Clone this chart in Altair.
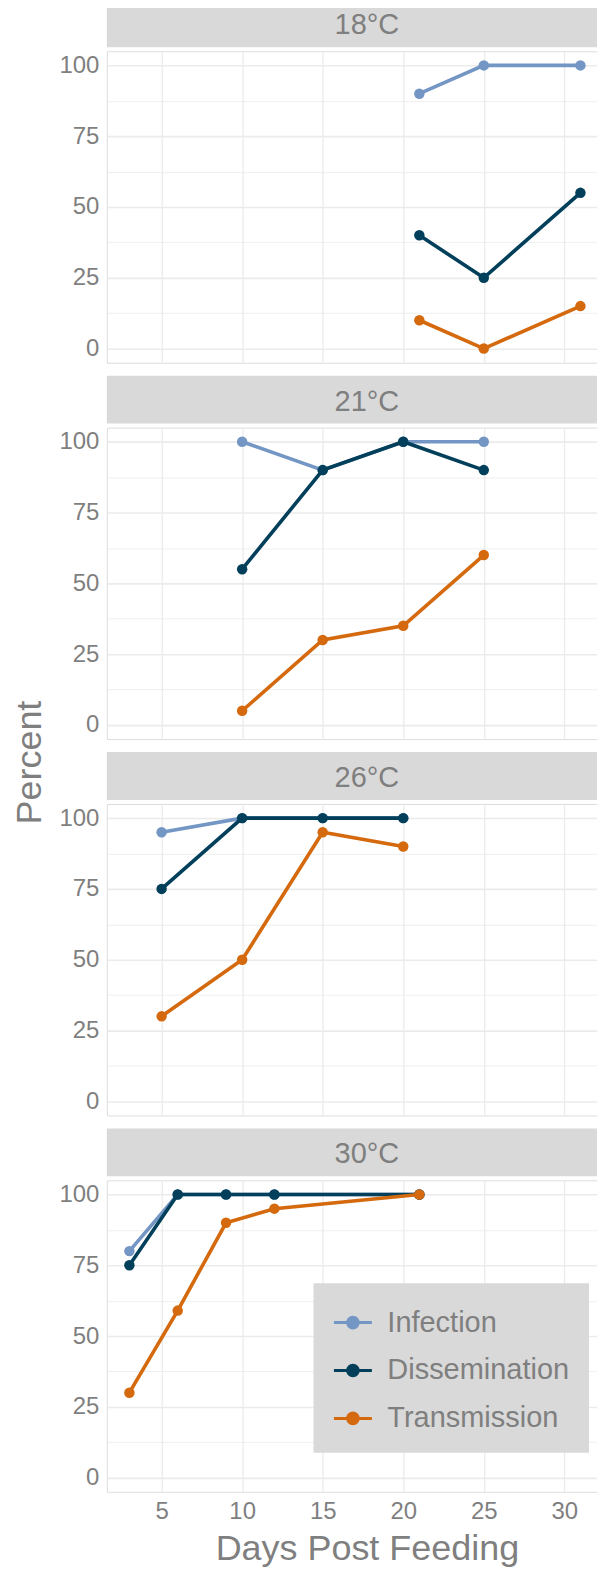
import altair as alt
import pandas as pd

# ---- data ----
temps = ["18°C", "21°C", "26°C", "30°C"]
series = ["Infection", "Dissemination", "Transmission"]
colors = ["#7396C4", "#023F5A", "#D4690E"]

days_18 = [21, 25, 31]
inf_18 = [90, 100, 100]
dis_18 = [40, 25, 55]
tra_18 = [10, 0, 15]

days_21 = [10, 15, 20, 25]
inf_21 = [100, 90, 100, 100]
dis_21 = [55, 90, 100, 90]
tra_21 = [5, 30, 35, 60]

days_26 = [5, 10, 15, 20]
inf_26 = [95, 100, 100, 100]
dis_26 = [75, 100, 100, 100]
tra_26 = [30, 50, 95, 90]

days_30 = [3, 6, 9, 12, 21]
inf_30 = [80, 100, 100, 100, 100]
dis_30 = [75, 100, 100, 100, 100]
tra_30 = [30, 59, 90, 95, 100]

x_ticks = [5, 10, 15, 20, 25, 30]
y_ticks = [0, 12.5, 25, 37.5, 50, 62.5, 75, 87.5, 100]

panels_data = [
    (days_18, inf_18, dis_18, tra_18),
    (days_21, inf_21, dis_21, tra_21),
    (days_26, inf_26, dis_26, tra_26),
    (days_30, inf_30, dis_30, tra_30),
]

# ---- layout / style ----
W = 497
H = 312
S = 48      # strip height
G = 4       # gap strip -> plot
P = 377     # panel pitch
TXT_SHIFT = 12
GRAY = "#7F7F7F"
STRIP = "#D9D9D9"
FONT = "Liberation Sans"

legend_path = ("M-1,0L1,0M-0.28,0A0.28,0.28,0,1,1,0.28,0"
               "A0.28,0.28,0,1,1,-0.28,0Z")

legend = alt.Legend(
    title=None, orient="none", legendX=207, legendY=1234,
    fillColor=STRIP, padding=19, labelFontSize=29, labelColor=GRAY,
    labelFont=FONT, symbolType=legend_path, symbolSize=1444, labelLimit=400,
    symbolStrokeWidth=3, rowPadding=12, labelOffset=14, symbolOpacity=1,
)

grid_w = {"condition": {"test": "datum.value % 25 === 0", "value": 1.6}, "value": 0.8}


def make_panel(i, days, inf, dis, tra):
    rows = []
    for name, vals in zip(series, [inf, dis, tra]):
        for d, v in zip(days, vals):
            rows.append({"day": d, "pct": v, "series": name})
    df = pd.DataFrame(rows)
    last = i == len(temps) - 1

    if last:
        xaxis = alt.Axis(values=x_ticks, title="Days Post Feeding", labelFontSize=24,
                         labelColor=GRAY, labelPadding=8, titleFontSize=36,
                         titleColor=GRAY, titleFontWeight="normal", titlePadding=8,
                         titleX=W / 2 + TXT_SHIFT,
                         grid=True, gridColor="#EBEBEB", gridWidth=1.3,
                         domain=False, ticks=False, labelFont=FONT, titleFont=FONT)
    else:
        xaxis = alt.Axis(values=x_ticks, title=None, labels=False, grid=True,
                         gridColor="#EBEBEB", gridWidth=1.3, domain=False, ticks=False)

    yargs = dict(values=y_ticks, labelExpr="datum.value % 25 === 0 ? datum.label : ''",
                 labelFontSize=24, labelColor=GRAY, labelPadding=8, grid=True,
                 gridColor="#EBEBEB", gridWidth=grid_w, domain=False, ticks=False,
                 labelFont=FONT)
    if i == 1:
        yaxis = alt.Axis(title="Percent", titleFontSize=36, titleColor=GRAY,
                         titleFontWeight="normal", titlePadding=10, titleY=335,
                         titleFont=FONT, **yargs)
    else:
        yaxis = alt.Axis(title=None, **yargs)

    xenc = alt.X("day:Q", scale=alt.Scale(domain=[1.6, 32.4], nice=False, zero=False), axis=xaxis)
    yenc = alt.Y("pct:Q", scale=alt.Scale(domain=[-5, 105], nice=False, zero=False), axis=yaxis)
    color = alt.Color("series:N", scale=alt.Scale(domain=series, range=colors), legend=legend)

    tdf = pd.DataFrame({"t": [temps[i]]})
    strip = alt.Chart(tdf).mark_rect(color=STRIP).encode(
        x=alt.value(0), x2=alt.value(W - 1), y=alt.value(-S - G), y2=alt.value(-G))
    label = alt.Chart(tdf).mark_text(fontSize=29, color=GRAY, font=FONT, baseline="middle").encode(
        text="t:N", x=alt.value(W / 2 + TXT_SHIFT), y=alt.value(-G - S / 2 + 2))

    layers = [strip, label]
    for s in series:
        base = alt.Chart(df).transform_filter(alt.datum.series == s)
        layers.append(base.mark_line(strokeWidth=3.6).encode(x=xenc, y=yenc, color=color))
        layers.append(base.mark_circle(size=110, opacity=1).encode(x=xenc, y=yenc, color=color))
    return alt.layer(*layers).properties(width=W, height=H)


panels = [make_panel(i, *d) for i, d in enumerate(panels_data)]

chart = alt.vconcat(*panels, spacing=P - H, bounds="flush").resolve_scale(
    color="shared").configure_view(stroke=None).configure(
    font=FONT, background="white",
    padding={"top": -11, "left": 3, "right": -7, "bottom": 0})

chart.save("out.html", embed_options={"renderer": "svg", "actions": False})
